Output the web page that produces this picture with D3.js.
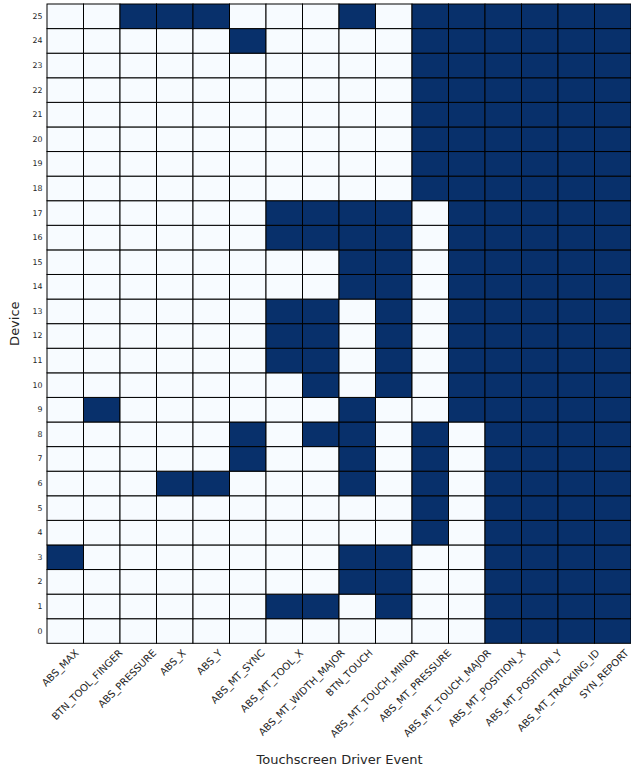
<!DOCTYPE html>
<html><head><meta charset="utf-8">
<script src="https://cdn.jsdelivr.net/npm/d3@7"></script>
<style>
html,body{margin:0;padding:0;background:#fff;}
svg text{font-family:"DejaVu Sans",sans-serif;fill:#262626;}
</style></head>
<body>
<svg id="chart" width="631" height="771"></svg>
<script>
const events = ["ABS_MAX","BTN_TOOL_FINGER","ABS_PRESSURE","ABS_X","ABS_Y","ABS_MT_SYNC","ABS_MT_TOOL_X","ABS_MT_WIDTH_MAJOR","BTN_TOUCH","ABS_MT_TOUCH_MINOR","ABS_MT_PRESSURE","ABS_MT_TOUCH_MAJOR","ABS_MT_POSITION_X","ABS_MT_POSITION_Y","ABS_MT_TRACKING_ID","SYN_REPORT"];
const devices = d3.range(0, 26);
// presence[device] = 1 if the device emits the event
const presence = [
  [0,0,0,0,0,0,0,0,0,0,0,0,1,1,1,1], // 0
  [0,0,0,0,0,0,1,1,0,1,0,0,1,1,1,1], // 1
  [0,0,0,0,0,0,0,0,1,1,0,0,1,1,1,1], // 2
  [1,0,0,0,0,0,0,0,1,1,0,0,1,1,1,1], // 3
  [0,0,0,0,0,0,0,0,0,0,1,0,1,1,1,1], // 4
  [0,0,0,0,0,0,0,0,0,0,1,0,1,1,1,1], // 5
  [0,0,0,1,1,0,0,0,1,0,1,0,1,1,1,1], // 6
  [0,0,0,0,0,1,0,0,1,0,1,0,1,1,1,1], // 7
  [0,0,0,0,0,1,0,1,1,0,1,0,1,1,1,1], // 8
  [0,1,0,0,0,0,0,0,1,0,0,1,1,1,1,1], // 9
  [0,0,0,0,0,0,0,1,0,1,0,1,1,1,1,1], // 10
  [0,0,0,0,0,0,1,1,0,1,0,1,1,1,1,1], // 11
  [0,0,0,0,0,0,1,1,0,1,0,1,1,1,1,1], // 12
  [0,0,0,0,0,0,1,1,0,1,0,1,1,1,1,1], // 13
  [0,0,0,0,0,0,0,0,1,1,0,1,1,1,1,1], // 14
  [0,0,0,0,0,0,0,0,1,1,0,1,1,1,1,1], // 15
  [0,0,0,0,0,0,1,1,1,1,0,1,1,1,1,1], // 16
  [0,0,0,0,0,0,1,1,1,1,0,1,1,1,1,1], // 17
  [0,0,0,0,0,0,0,0,0,0,1,1,1,1,1,1], // 18
  [0,0,0,0,0,0,0,0,0,0,1,1,1,1,1,1], // 19
  [0,0,0,0,0,0,0,0,0,0,1,1,1,1,1,1], // 20
  [0,0,0,0,0,0,0,0,0,0,1,1,1,1,1,1], // 21
  [0,0,0,0,0,0,0,0,0,0,1,1,1,1,1,1], // 22
  [0,0,0,0,0,0,0,0,0,0,1,1,1,1,1,1], // 23
  [0,0,0,0,0,1,0,0,0,0,1,1,1,1,1,1], // 24
  [0,0,1,1,1,0,0,0,1,0,1,1,1,1,1,1]  // 25
];
const xLabel = "Touchscreen Driver Event";
const yLabel = "Device";

const svg = d3.select("#chart");
const L = 47, R = 631, T = 4, B = 643.3;
const x = d3.scaleBand().domain(events).range([L, R]);
const y = d3.scaleBand().domain(devices.slice().reverse()).range([T, B]);
const color = d3.scaleSequential(d3.interpolateBlues).domain([0, 1]);

const cells = [];
presence.forEach((row, d) => row.forEach((v, i) => cells.push({device: d, event: events[i], v})));

svg.append("g").selectAll("rect").data(cells).join("rect")
  .attr("x", d => x(d.event))
  .attr("y", d => y(d.device))
  .attr("width", x.bandwidth())
  .attr("height", y.bandwidth())
  .attr("fill", d => color(d.v))
  .attr("stroke", "#000")
  .attr("stroke-width", 1);

// y tick labels
const yAxis = d3.axisLeft(y).tickSize(0).tickPadding(4.5);
const gy = svg.append("g").attr("transform", `translate(${L},0)`).call(yAxis);
gy.select(".domain").remove();
gy.selectAll("text").style("font-size", "7.8px").style("font-family", "DejaVu Sans").attr("fill", "#262626");

// x tick labels (rotated 45°)
const gx = svg.append("g");
const fs = 10;
events.forEach(e => {
  const tick = x(e) + x.bandwidth() / 2;
  const g = gx.append("g");
  const t = g.append("text").text(e).style("font-size", fs + "px")
    .attr("text-anchor", "middle").attr("dy", "0.32em");
  const w = t.node().getComputedTextLength();
  const bh = (w + fs) * Math.SQRT1_2;
  const cx = tick + 4.5 - 0.2 * w;
  g.attr("transform", `translate(${cx},${B + 4.5 + bh / 2}) rotate(-45)`);
});

svg.append("text").text(xLabel).attr("x", (L + R) / 2 + 0.5).attr("y", 764.3)
  .attr("text-anchor", "middle").style("font-size", "13px");
svg.append("text").text(yLabel)
  .attr("transform", `translate(19.3,${(T + B) / 2}) rotate(-90)`)
  .attr("text-anchor", "middle").style("font-size", "13px");
</script>
</body></html>
